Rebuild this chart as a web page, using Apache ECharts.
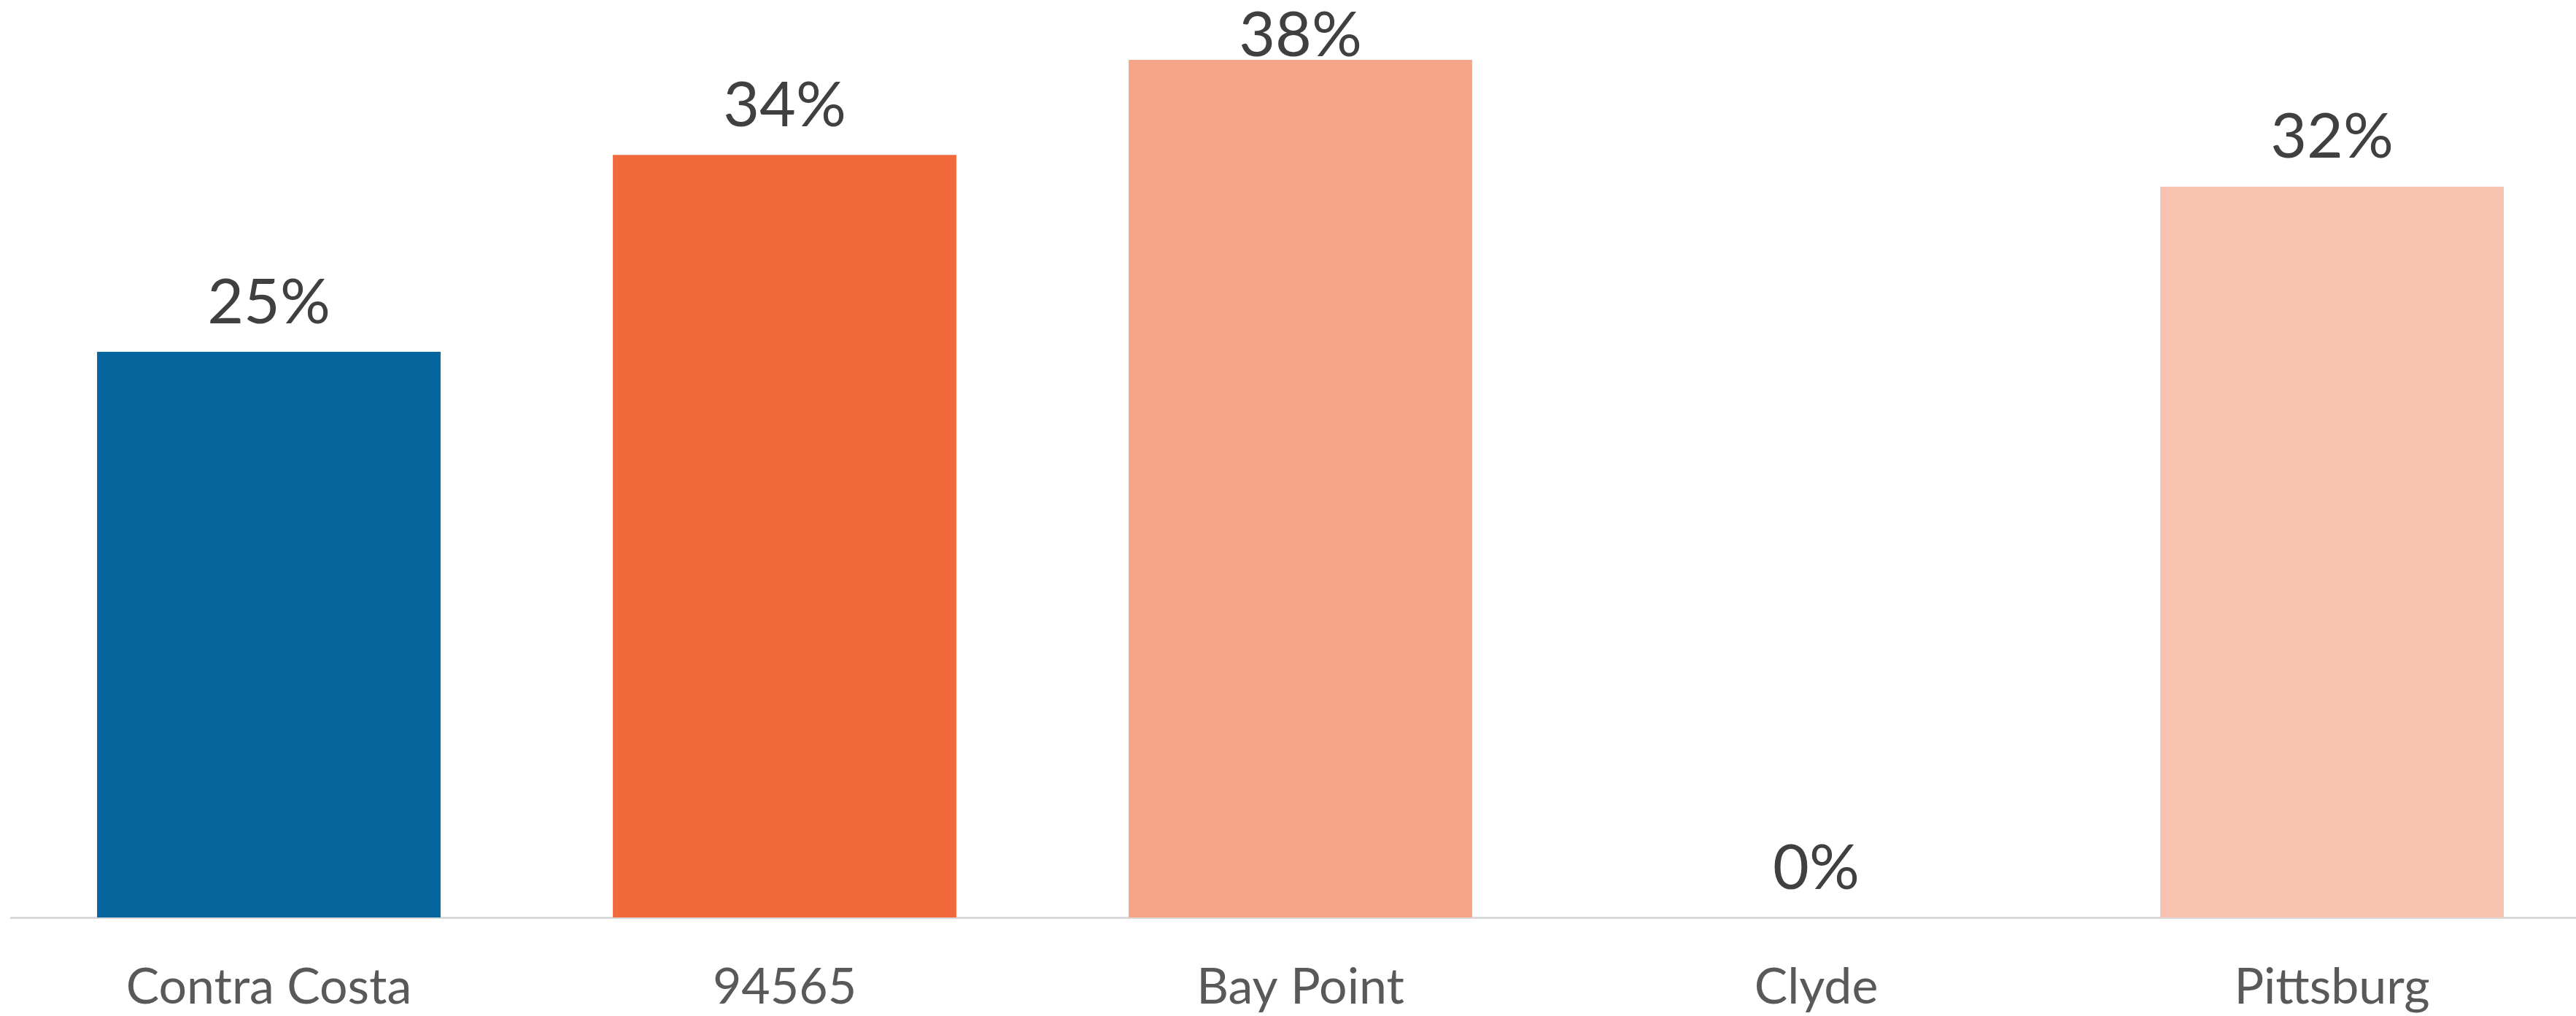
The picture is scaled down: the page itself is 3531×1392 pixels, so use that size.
<!DOCTYPE html>
<html>
<head>
<meta charset="utf-8">
<script src="https://cdn.jsdelivr.net/npm/echarts@6/dist/echarts.min.js"></script>
<style>
  html, body { margin: 0; padding: 0; background: #fff; overflow: hidden; }
  /* plot area runs slightly past the right edge of the picture */
  #chart { width: 3550px; height: 1392px; }
</style>
</head>
<body>
<div id="chart"></div>
<script>
// data
const categories = ["Contra Costa", "94565", "Bay Point", "Clyde", "Pittsburg"];
const shares = [25.0, 33.7, 37.9, 0, 32.3];
const barColors = ["#06659c", "#f26a3c", "#f7a589", "#f8c2b1"];
const colorIndex = [0, 1, 2, 3, 3];

const chart = echarts.init(document.getElementById("chart"));

const seriesData = shares.map((v, i) => {
  const item = { value: v, itemStyle: { color: barColors[colorIndex[i]] } };
  // top bar label gets squeezed against the edge, like in the original
  if (i === 2) item.label = { distance: -10 };
  return item;
});

chart.setOption({
  animation: false,
  backgroundColor: "#ffffff",
  grid: {
    left: 15,
    right: 0,
    top: 17,
    bottom: 135,
    containLabel: false,
  },
  xAxis: {
    type: "category",
    data: categories,
    axisLine: { lineStyle: { color: "#d9d9d9", width: 3 } },
    axisTick: { show: false },
    axisLabel: {
      color: "#595959",
      fontFamily: "Lato",
      fontSize: 68,
      margin: 62,
    },
  },
  yAxis: {
    type: "value",
    min: 0,
    max: 40,
    show: false,
    splitLine: { show: false },
  },
  series: [
    {
      type: "bar",
      data: seriesData,
      barCategoryGap: "33.4%",
      label: {
        show: true,
        position: "top",
        distance: 24,
        color: "#404040",
        fontFamily: "Lato",
        fontSize: 86,
        formatter: (p) => Math.round(p.value) + "%",
      },
    },
  ],
});
</script>
</body>
</html>
